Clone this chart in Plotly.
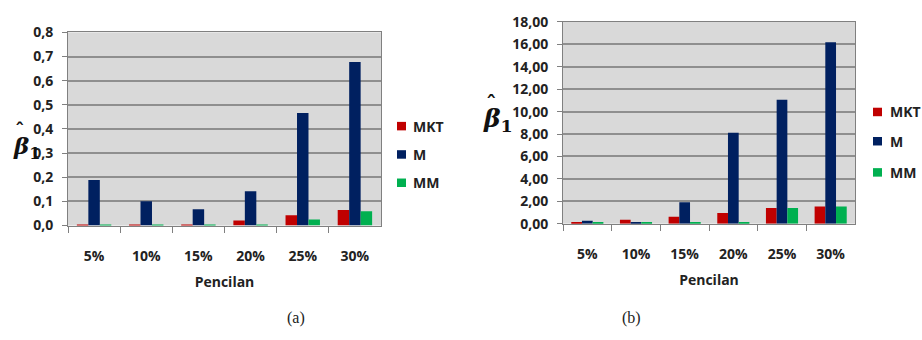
import plotly.graph_objects as go

categories = ["5%", "10%", "15%", "20%", "25%", "30%"]
series_names = ["MKT", "M", "MM"]

# panel (a)
a_mkt = [0.003, 0.003, 0.003, 0.021, 0.043, 0.064]
a_m = [0.189, 0.101, 0.068, 0.142, 0.466, 0.677]
a_mm = [0.003, 0.003, 0.003, 0.003, 0.025, 0.059]
a_ticks = [0.0, 0.1, 0.2, 0.3, 0.4, 0.5, 0.6, 0.7, 0.8]

# panel (b)
b_mkt = [0.10, 0.34, 0.61, 0.95, 1.40, 1.54]
b_m = [0.25, 0.10, 1.90, 8.11, 11.06, 16.20]
b_mm = [0.10, 0.10, 0.10, 0.10, 1.40, 1.54]
b_ticks = [0, 2, 4, 6, 8, 10, 12, 14, 16, 18]

colors = ["#C00000", "#002060", "#00B050"]
FONT = "Open Sans"
W, H = 922, 340


def px(x):
    return x / W


def py(y):
    return 1 - y / H


fig = go.Figure()

for name, vals, col in zip(series_names, [a_mkt, a_m, a_mm], colors):
    fig.add_trace(go.Bar(x=categories, y=vals, name=name, marker_color=col,
                         marker_line_width=0, xaxis="x", yaxis="y", showlegend=False))
for name, vals, col in zip(series_names, [b_mkt, b_m, b_mm], colors):
    fig.add_trace(go.Bar(x=categories, y=vals, name=name, marker_color=col,
                         marker_line_width=0, xaxis="x2", yaxis="y2", showlegend=False))

grid = "#8f8f8f"
axline = "#808080"
tickfont = dict(family=FONT, size=14, color="#222", weight="bold")

xcommon = dict(type="category", showline=True, linecolor=axline, linewidth=1,
               mirror=True, ticks="outside", tickson="boundaries", ticklen=6,
               tickcolor=axline, tickfont=tickfont, ticklabelstandoff=18,
               showgrid=False,
               title=dict(text="<b>Pencilan</b>",
                          font=dict(family=FONT, size=14, color="#222"), standoff=12))
ycommon = dict(showline=True, linecolor=axline, linewidth=1, mirror=True,
               ticks="outside", ticklen=5, tickcolor=axline, tickfont=tickfont,
               showgrid=True, gridcolor=grid, gridwidth=1.5, zeroline=False,
               ticklabelstandoff=6)

fig.update_layout(
    width=W, height=H, margin=dict(l=0, r=0, t=0, b=0),
    paper_bgcolor="white", plot_bgcolor="#D9D9D9",
    barmode="group", bargap=0.34, bargroupgap=0.0,
    font=dict(family=FONT),
    xaxis=dict(domain=[px(68), px(381)], anchor="y", **xcommon),
    yaxis=dict(domain=[py(228.3), py(23.7)], anchor="x", range=[0, 0.8],
               tickvals=a_ticks, ticktext=[f"{v:.1f}".replace(".", ",") for v in a_ticks],
               **ycommon),
    xaxis2=dict(domain=[px(563), px(855)], anchor="y2", **xcommon),
    yaxis2=dict(domain=[py(226.3), py(12.7)], anchor="x2", range=[0, 18],
                tickvals=b_ticks, ticktext=[f"{v:.2f}".replace(".", ",") for v in b_ticks],
                **ycommon),
)

# legends: colour square + series name, one column per panel
legend_specs = [
    (397, 411, [123, 153, 183]),
    (873, 888, [108, 139, 172]),
]
for sq_x, txt_x, rows in legend_specs:
    for name, col, yc in zip(series_names, colors, rows):
        fig.add_shape(type="rect", xref="paper", yref="paper",
                      x0=px(sq_x), x1=px(sq_x + 9), y0=py(yc + 4.5), y1=py(yc - 4.5),
                      fillcolor=col, line_width=0)
        fig.add_annotation(x=px(txt_x), y=py(yc), xref="paper", yref="paper",
                           text=f"<b>{name}</b>", showarrow=False, xanchor="left",
                           yanchor="middle",
                           font=dict(family=FONT, size=14, color="#222"))

# y-axis symbol: beta with hat and subscript 1
for bx, by, hx, hy, size in [(11, 146, 20, 127, 23), (481, 117, 491, 99, 25)]:
    fig.add_annotation(x=px(bx), y=py(by), xref="paper", yref="paper",
                       text="<b><i>β</i></b><sub><b>1</b></sub>", showarrow=False,
                       xanchor="left", yanchor="middle",
                       font=dict(family="DejaVu Serif", size=size, color="#111"))
    fig.add_annotation(x=px(hx), y=py(hy), xref="paper", yref="paper",
                       text="<b>ˆ</b>", showarrow=False, xanchor="center", yanchor="middle",
                       font=dict(family="DejaVu Serif", size=size - 4, color="#111"))

for lbl, xc in [("(a)", 285), ("(b)", 643)]:
    fig.add_annotation(x=px(xc), y=py(326), xref="paper", yref="paper", text=lbl,
                       showarrow=False, yanchor="middle",
                       font=dict(family="Liberation Serif", size=16, color="#222"))

fig.write_html("out.html")
